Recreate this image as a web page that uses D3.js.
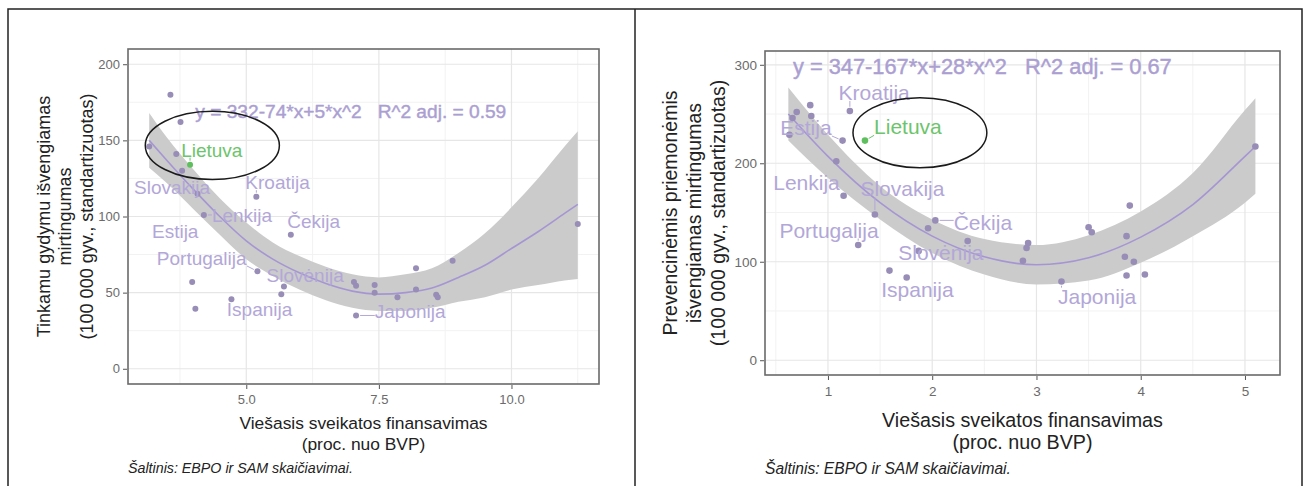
<!DOCTYPE html>
<html>
<head>
  <meta charset="UTF-8">
  <title>Išvengiamas mirtingumas ir viešasis finansavimas</title>
  <style>
    body { margin: 0; background: #fff; }
    svg { display: block; font-family: "Liberation Sans", Arial, sans-serif; }
    .tick text { fill: #6b6b6b; }
    .tick line { stroke: #555; }
    .eq { white-space: pre; }
  </style>
</head>
<body>
<svg width="1306" height="486"></svg>
<script src="https://d3js.org/d3.v7.min.js"></script>
<script>

// ---- left panel: tinkamu gydymu išvengiamas mirtingumas
let treatX = [3.17, 3.57, 3.76, 3.68, 3.94, 3.79, 4.08, 4.20, 5.19, 5.84, 5.21, 3.98, 4.04, 4.72,
              5.71, 5.66, 7.03, 7.07, 7.07, 7.42, 7.42, 7.85, 8.20, 8.20, 8.58, 8.61, 8.89, 11.25];
let treatY = [146, 180, 162, 141, 134, 130, 115, 101, 113, 88, 64, 57, 39.5, 45.6,
              54, 49, 57, 54.5, 35, 55, 50, 47, 66, 52, 48.6, 47, 71, 95];
let treatFitX  = [3.17, 3.5, 4, 4.5, 5, 5.5, 6, 6.5, 7, 7.5, 8, 8.5, 9, 9.5, 10, 10.5, 11, 11.25];
let treatFitY  = [150, 137, 118, 100, 84, 72, 63, 56, 51, 49, 50, 53, 60, 68, 79, 90, 102, 108];
let treatFitLo = [132, 122, 105, 88, 72, 61, 52, 45, 40, 38, 38, 40, 44, 47, 52, 55, 58, 59];
let treatFitHi = [168, 152, 131, 112, 96, 83, 74, 67, 62, 60, 62, 66, 76, 89, 106, 125, 146, 156];
let treatLabels = ["Lietuva", "Slovakija", "Kroatija", "Lenkija", "Čekija", "Estija",
                   "Portugalija", "Slovėnija", "Ispanija", "Japonija"];
let treatLabelX = [4.35, 3.60, 5.59, 4.92, 6.27, 3.66, 4.16, 6.11, 5.25, 8.09];
let treatLabelY = [143.6, 118.9, 122.2, 100.9, 96.5, 89.9, 72.4, 61.4, 39, 37.3];
let treatLabelPt = [4, 6, 8, 7, 9, null, 10, 14, 13, 18];
let treatXTicks = [5, 7.5, 10];
let treatYTicks = [0, 50, 100, 150, 200];
let treatEq = "y = 332-74*x+5*x^2   R^2 adj. = 0.59";

// ---- right panel: prevencinėmis priemonėmis išvengiamas mirtingumas
let prevX = [0.63, 0.66, 0.70, 0.83, 0.84, 1.21, 1.14, 1.355, 1.08, 1.15, 1.45, 1.29, 2.03, 1.96,
             2.34, 1.87, 1.59, 1.755, 2.87, 2.905, 2.92, 3.24, 3.50, 3.53, 3.895, 3.864, 3.848,
             3.934, 3.864, 4.04, 5.10];
let prevY = [229, 246, 252, 259, 248, 253, 223, 223, 202, 167, 148, 117, 142, 134,
             121, 111, 91, 84, 101, 114, 119, 80, 135, 130, 157, 126, 105,
             100, 86, 87, 217];
let prevFitX  = [0.62, 1.0, 1.5, 2.0, 2.5, 3.0, 3.5, 4.0, 4.5, 5.0, 5.1];
let prevFitY  = [250, 207, 160, 126, 105, 97, 104, 125, 158, 207, 217];
let prevFitLo = [223, 185, 143, 109, 87, 77, 81, 99, 126, 160, 169];
let prevFitHi = [277, 229, 177, 143, 123, 117, 127, 151, 190, 254, 266];
let prevLabels = ["Kroatija", "Estija", "Lietuva", "Lenkija", "Slovakija", "Portugalija",
                  "Čekija", "Slovėnija", "Ispanija", "Japonija"];
let prevLabelX = [1.443, 0.789, 1.767, 0.794, 1.714, 1.01, 2.486, 2.083, 1.858, 3.582];
let prevLabelY = [271.9, 236.3, 237, 180.4, 174, 132.2, 139.7, 109.2, 72.2, 65.1];
let prevLabelPt = [5, 6, 7, 9, 10, 11, 12, 15, 17, 21];
let prevXTicks = [1, 2, 3, 4, 5];
let prevYTicks = [0, 100, 200, 300];
let prevEq = "y = 347-167*x+28*x^2   R^2 adj. = 0.67";

let xTitle = ["Viešasis sveikatos finansavimas", "(proc. nuo BVP)"];
let source = "Šaltinis: EBPO ir SAM skaičiavimai.";

let svg = d3.select("svg");

// outer frame with divider
svg.append("rect").attr("x", 8).attr("y", 9).attr("width", 1294).attr("height", 490)
    .attr("fill", "none").attr("stroke", "#222").attr("stroke-width", 1.5);
svg.append("line").attr("x1", 635).attr("x2", 635).attr("y1", 9).attr("y2", 486)
    .attr("stroke", "#222").attr("stroke-width", 1.5);

let purple = "#b2a7d8", dotCol = "#978db6", lineCol = "#a596d3", green = "#5fbf5f";

// scale a text's font so it spans the given width
function fitWidth(t, size, w) {
    t.attr("font-size", size);
    t.attr("font-size", size * w / t.node().getComputedTextLength());
}

function panel(cfg) {
    let x = d3.scaleLinear().domain(cfg.xDom).range([cfg.l, cfg.r]);
    let y = d3.scaleLinear().domain(cfg.yDom).range([cfg.b, cfg.t]);
    let g = svg.append("g");

    // grid
    let grid = g.append("g");
    grid.selectAll(".vmin").data(cfg.xMinor).enter().append("line")
        .attr("x1", d => x(d)).attr("x2", d => x(d)).attr("y1", cfg.t).attr("y2", cfg.b)
        .attr("stroke", "#f2f2f2").attr("stroke-width", 1);
    grid.selectAll(".hmin").data(cfg.yMinor).enter().append("line")
        .attr("y1", d => y(d)).attr("y2", d => y(d)).attr("x1", cfg.l).attr("x2", cfg.r)
        .attr("stroke", "#f2f2f2").attr("stroke-width", 1);
    grid.selectAll(".vmaj").data(cfg.xTicks).enter().append("line")
        .attr("x1", d => x(d)).attr("x2", d => x(d)).attr("y1", cfg.t).attr("y2", cfg.b)
        .attr("stroke", "#e6e6e6").attr("stroke-width", 1.2);
    grid.selectAll(".hmaj").data(cfg.yTicks).enter().append("line")
        .attr("y1", d => y(d)).attr("y2", d => y(d)).attr("x1", cfg.l).attr("x2", cfg.r)
        .attr("stroke", "#e6e6e6").attr("stroke-width", 1.2);

    // smooth band + line
    let fit = cfg.fitX.map((v, i) => ({x: v, y: cfg.fitY[i], lo: cfg.fitLo[i], hi: cfg.fitHi[i]}));
    g.append("path").datum(fit)
        .attr("d", d3.area().curve(d3.curveMonotoneX).x(d => x(d.x)).y0(d => y(d.lo)).y1(d => y(d.hi)))
        .attr("fill", "#cbcbcb");
    g.append("path").datum(fit)
        .attr("d", d3.line().curve(d3.curveMonotoneX).x(d => x(d.x)).y(d => y(d.y)))
        .attr("fill", "none").attr("stroke", lineCol).attr("stroke-width", 1.6);

    // points
    let pts = cfg.px.map((v, i) => ({x: v, y: cfg.py[i], hi: i === cfg.hiIdx}));
    g.selectAll(".pt").data(pts).enter().append("circle")
        .attr("cx", d => x(d.x)).attr("cy", d => y(d.y)).attr("r", cfg.r0)
        .attr("fill", d => d.hi ? green : dotCol);

    // labels (ggrepel style) with short segments
    let lab = g.append("g");
    cfg.labels.forEach((name, i) => {
        let col = name === "Lietuva" ? "#6cc46c" : purple;
        let t = lab.append("text").attr("x", x(cfg.labX[i])).attr("y", y(cfg.labY[i]))
            .attr("text-anchor", "middle").attr("dominant-baseline", "central")
            .attr("font-size", cfg.labSize).attr("fill", col).text(name);
        let k = cfg.labPt[i];
        if (k == null) return;
        let bb = t.node().getBBox();
        let px = x(cfg.px[k]), py = y(cfg.py[k]);
        let cx = Math.max(bb.x, Math.min(px, bb.x + bb.width));
        let cy = Math.max(bb.y + 3, Math.min(py, bb.y + bb.height - 3));
        let dist = Math.hypot(px - cx, py - cy);
        if (dist > 6 && dist < 30) {
            let f = (dist - cfg.r0 - 1) / dist;
            lab.append("line").attr("x1", cx).attr("y1", cy)
                .attr("x2", cx + (px - cx) * f).attr("y2", cy + (py - cy) * f)
                .attr("stroke", col).attr("stroke-width", 1);
        }
    });

    // equation, sized to the reference width
    let eq = g.append("text").attr("class", "eq").attr("x", x(cfg.eqX)).attr("y", y(cfg.eqY))
        .attr("dominant-baseline", "central").attr("fill", "#ab9fd2")
        .attr("stroke", "#ab9fd2").attr("stroke-width", 0.45).text(cfg.eq);
    fitWidth(eq, 16, cfg.eqW);

    // highlight ellipse
    g.append("ellipse").attr("cx", x(cfg.ell[0])).attr("cy", y(cfg.ell[1]))
        .attr("rx", x(cfg.ell[0] + cfg.ell[2]) - x(cfg.ell[0]))
        .attr("ry", y(cfg.ell[1]) - y(cfg.ell[1] + cfg.ell[3]))
        .attr("fill", "none").attr("stroke", "#1a1a1a").attr("stroke-width", 1.5);

    // panel border
    g.append("rect").attr("x", cfg.l).attr("y", cfg.t).attr("width", cfg.r - cfg.l).attr("height", cfg.b - cfg.t)
        .attr("fill", "none").attr("stroke", "#6a6a6a").attr("stroke-width", 1.6);

    // axes
    let ax = g.append("g").attr("transform", "translate(0," + (cfg.b + 1) + ")")
        .call(d3.axisBottom(x).tickValues(cfg.xTicks).tickFormat(cfg.xFmt).tickSize(4).tickPadding(6));
    let ay = g.append("g").attr("transform", "translate(" + (cfg.l - 1) + ",0)")
        .call(d3.axisLeft(y).tickValues(cfg.yTicks).tickFormat(d3.format("d")).tickSize(4).tickPadding(3));
    [ax, ay].forEach(a => {
        a.select(".domain").remove();
        a.selectAll("text").attr("font-size", cfg.tickSize).attr("font-family", null);
    });

    // axis titles
    let mid = (cfg.l + cfg.r) / 2;
    xTitle.forEach((s, i) => {
        g.append("text").attr("x", mid).attr("y", cfg.xtY + i * cfg.xtGap)
            .attr("text-anchor", "middle").attr("dominant-baseline", "central")
            .attr("font-size", cfg.xtSize).attr("fill", "#222").text(s);
    });
    let ymid = (cfg.t + cfg.b) / 2;
    cfg.yTitle.forEach((s, i) => {
        g.append("text").attr("transform", "translate(" + cfg.ytX[i] + "," + ymid + ") rotate(-90)")
            .attr("text-anchor", "middle").attr("dominant-baseline", "central")
            .attr("font-size", cfg.ytSize).attr("fill", "#222").text(s);
    });

    let src = g.append("text").attr("x", cfg.l).attr("y", 468).attr("dominant-baseline", "central")
        .attr("font-style", "italic").attr("fill", "#222").text(source);
    fitWidth(src, 12, cfg.srcW);
}

panel({
    l: 128, r: 599, t: 49, b: 384,
    xDom: [2.77, 11.65], yDom: [-10, 210],
    xTicks: treatXTicks, yTicks: treatYTicks,
    xMinor: [3.75, 6.25, 8.75, 11.25], yMinor: [25, 75, 125, 175],
    xFmt: d3.format(".1f"),
    px: treatX, py: treatY, hiIdx: 4, r0: 3,
    fitX: treatFitX, fitY: treatFitY, fitLo: treatFitLo, fitHi: treatFitHi,
    labels: treatLabels, labX: treatLabelX, labY: treatLabelY, labPt: treatLabelPt, labSize: 19,
    eq: treatEq, eqX: 4.04, eqY: 168.9, eqW: 311,
    ell: [4.36, 146.7, 1.264, 22.4],
    tickSize: 13, xtY: 423, xtGap: 20.5, xtSize: 17.4,
    yTitle: ["Tinkamu gydymu išvengiamas", "mirtingumas", "(100 000 gyv., standartizuotas)"],
    ytX: [44, 65, 87], ytSize: 18,
    srcW: 225
});

panel({
    l: 765, r: 1280, t: 51, b: 375,
    xDom: [0.396, 5.336], yDom: [-15, 314],
    xTicks: prevXTicks, yTicks: prevYTicks,
    xMinor: [0.5, 1.5, 2.5, 3.5, 4.5], yMinor: [50, 150, 250],
    xFmt: d3.format("d"),
    px: prevX, py: prevY, hiIdx: 7, r0: 3.3,
    fitX: prevFitX, fitY: prevFitY, fitLo: prevFitLo, fitHi: prevFitHi,
    labels: prevLabels, labX: prevLabelX, labY: prevLabelY, labPt: prevLabelPt, labSize: 21,
    eq: prevEq, eqX: 0.664, eqY: 298, eqW: 379,
    ell: [1.882, 231, 0.642, 35.6],
    tickSize: 13.5, xtY: 420, xtGap: 21.5, xtSize: 19.7,
    yTitle: ["Prevencinėmis priemonėmis", "išvengiamas mirtingumas", "(100 000 gyv., standartizuotas)"],
    ytX: [670, 694, 718], ytSize: 19.5,
    srcW: 246
});

</script>
</body>
</html>
